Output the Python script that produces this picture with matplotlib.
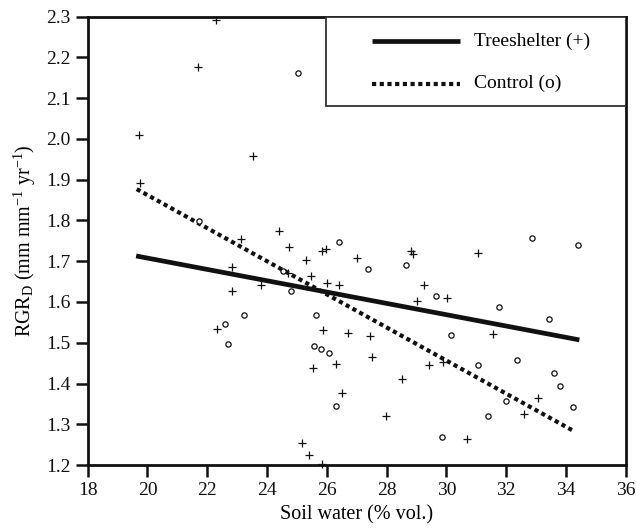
import matplotlib
matplotlib.use("Agg")
import matplotlib.pyplot as plt
from matplotlib.patches import Rectangle

plt.rcParams['font.family'] = ['Liberation Serif', 'DejaVu Serif']
plt.rcParams['mathtext.fontset'] = 'custom'
plt.rcParams['mathtext.rm'] = 'Liberation Serif'
plt.rcParams['mathtext.it'] = 'Liberation Serif:italic'

# Treeshelter (+) observations
shelter_x = [22.30, 21.68, 19.71, 23.54, 19.75, 23.13, 22.83, 23.79, 22.83, 22.34,
             24.40, 24.75, 25.83, 25.96, 25.29, 27.02, 28.83, 28.90, 24.69, 25.47,
             26.02, 26.42, 29.24, 30.01, 29.01, 25.88, 26.72, 27.44, 31.07, 31.57,
             29.88, 33.07, 32.61, 30.68, 25.53, 26.31, 27.52, 28.52, 29.43, 26.50,
             27.98, 25.16, 25.41, 25.83]
shelter_y = [2.292, 2.177, 2.010, 1.959, 1.891, 1.754, 1.685, 1.642, 1.628, 1.534,
             1.774, 1.734, 1.725, 1.729, 1.703, 1.708, 1.725, 1.717, 1.672, 1.664,
             1.646, 1.642, 1.642, 1.610, 1.603, 1.531, 1.523, 1.516, 1.721, 1.521,
             1.452, 1.365, 1.324, 1.263, 1.439, 1.448, 1.466, 1.412, 1.445, 1.377,
             1.320, 1.253, 1.224, 1.202]

# Control (o) observations
control_x = [25.05, 21.73, 23.24, 22.58, 22.70, 26.42, 27.38, 28.64, 24.55, 24.79,
             29.66, 25.64, 30.15, 32.85, 34.39, 31.76, 33.44, 32.36, 31.05, 33.61,
             33.80, 32.00, 31.40, 34.23, 29.84, 25.58, 25.82, 26.06, 26.31]
control_y = [2.161, 1.799, 1.568, 1.545, 1.497, 1.748, 1.681, 1.690, 1.677, 1.628,
             1.615, 1.567, 1.519, 1.756, 1.739, 1.588, 1.558, 1.457, 1.445, 1.426,
             1.395, 1.356, 1.320, 1.342, 1.268, 1.493, 1.484, 1.474, 1.346]

# regression lines (end points)
shelter_fit_x = [19.62, 34.45]
shelter_fit_y = [1.713, 1.507]
control_fit_x = [19.64, 34.27]
control_fit_y = [1.877, 1.283]

legend_labels = ['Treeshelter (+)', 'Control (o)']

x_ticks = [18, 20, 22, 24, 26, 28, 30, 32, 34, 36]
y_ticks = [1.2, 1.3, 1.4, 1.5, 1.6, 1.7, 1.8, 1.9, 2.0, 2.1, 2.2, 2.3]

ink = '#111111'
solid_style = dict(color=ink, lw=3.4, solid_capstyle='butt')
dotted_style = dict(color=ink, lw=3.0, linestyle=(0, (1, 0.85)), dash_capstyle='butt')

fig = plt.figure(figsize=(6.36, 5.32), dpi=100)
ax = fig.add_axes([0.1379, 0.1259, 0.8459, 0.8427])

ax.plot(shelter_fit_x, shelter_fit_y, **solid_style)
ax.plot(control_fit_x, control_fit_y, **dotted_style)

ax.plot(shelter_x, shelter_y, linestyle='none', marker='+', ms=5.5, mew=0.9,
        color=ink, clip_on=False)
ax.plot(control_x, control_y, linestyle='none', marker='o', ms=3.8, mew=0.9,
        mfc='white', mec=ink, clip_on=False)

ax.set_xlim(18, 36)
ax.set_ylim(1.2, 2.3)
ax.set_xticks(x_ticks)
ax.set_yticks(y_ticks)
ax.set_yticklabels([f'{v:.1f}' for v in y_ticks])
ax.tick_params(direction='out', length=8.5, width=1.8, labelsize=14, pad=4,
               colors=ink)
for s in ax.spines.values():
    s.set_linewidth(2.0)
    s.set_color(ink)

ax.set_xlabel('Soil water (% vol.)', fontsize=14.5, labelpad=4)
ax.set_ylabel(r'RGR$_{\mathrm{D}}$ (mm mm$^{-1}$ yr$^{-1}$)', fontsize=14.5, labelpad=6)

# legend box in the upper right corner, drawn by hand to match the layout
ax.add_patch(Rectangle((0.443, 0.8015), 0.557, 0.1985, transform=ax.transAxes,
                       facecolor='white', edgecolor='#333333', lw=1.3, zorder=5))
for row_y, style, label in zip([0.945, 0.8505], [solid_style, dotted_style], legend_labels):
    ax.plot([0.528, 0.692], [row_y, row_y], transform=ax.transAxes, zorder=6, **style)
    ax.text(0.718, row_y, label, transform=ax.transAxes, fontsize=14,
            va='center', ha='left', zorder=6)

fig.savefig('out.png', dpi=100)
